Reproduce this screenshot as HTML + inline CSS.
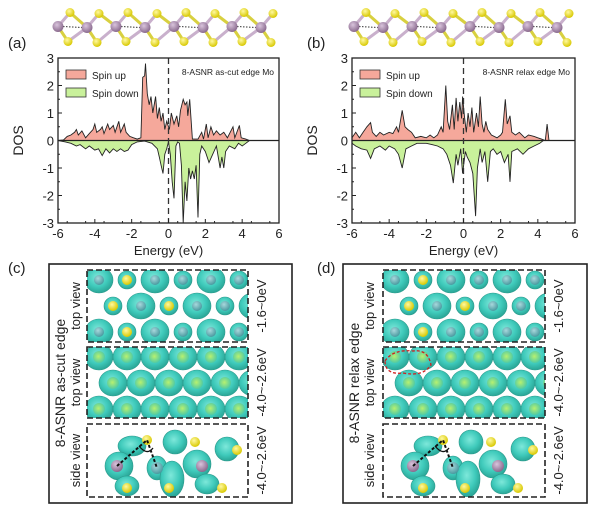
<!DOCTYPE html>
<html><head><meta charset="utf-8"><style>
html,body{margin:0;padding:0;background:#fff}
svg{display:block;font-family:"Liberation Sans",Arial,sans-serif}
</style></head><body>
<svg id="fig" width="600" height="512" viewBox="0 0 600 512" xmlns="http://www.w3.org/2000/svg">
<defs>
<radialGradient id="gTeal" cx="45%" cy="40%" r="60%"><stop offset="0" stop-color="#7ee8da"/><stop offset="0.6" stop-color="#3fcabb"/><stop offset="1" stop-color="#2aa596"/></radialGradient>
<radialGradient id="gMo" cx="40%" cy="35%" r="65%"><stop offset="0" stop-color="#d9c4dc"/><stop offset="1" stop-color="#8a6a8e"/></radialGradient>
<radialGradient id="gS" cx="40%" cy="35%" r="65%"><stop offset="0" stop-color="#fff9a0"/><stop offset="1" stop-color="#d8c800"/></radialGradient>
<radialGradient id="gAt" cx="40%" cy="35%" r="65%"><stop offset="0" stop-color="#a8d8dc"/><stop offset="1" stop-color="#4a9aa0"/></radialGradient>
<radialGradient id="gGr" cx="45%" cy="45%" r="60%"><stop offset="0" stop-color="#b8f070"/><stop offset="1" stop-color="#48c8a8"/></radialGradient>
</defs>
<g id="layer"></g>
</svg>
<script>
// ---- chart data (Energy in eV, DOS) ----
const energyTicks = [-6,-4,-2,0,2,4,6];
const dosTicks = [-3,-2,-1,0,1,2,3];
const aUpE = [-6,-5.7,-5.5,-5.3,-5.1,-5.0,-4.9,-4.7,-4.5,-4.3,-4.1,-4.0,-3.9,-3.7,-3.6,-3.5,-3.3,-3.2,-3.0,-2.9,-2.7,-2.6,-2.4,-2.3,-2.1,-1.9,-1.7,-1.5,-1.4,-1.3,-1.25,-1.15,-1.05,-0.95,-0.85,-0.7,-0.6,-0.5,-0.4,-0.3,-0.2,-0.1,0.05,0.15,0.3,0.45,0.55,0.65,0.8,0.9,1.0,1.05,1.15,1.3,1.6,1.8,1.9,2.05,2.15,2.3,2.45,2.6,2.8,3.0,3.2,3.5,3.6,3.85,3.95,4.2,4.4];
const aUpV = [0,0.02,0.15,0.2,0.3,0.4,0.2,0.35,0.1,0.25,0.4,0.6,0.3,0.4,0.5,0.25,0.6,0.4,0.55,0.3,0.7,0.3,0.6,0.3,0.15,0.1,0.05,0.1,2.3,2.35,2.8,1.7,1.3,1.6,1.0,1.6,0.8,1.2,0.7,1.0,0.4,0.7,0.4,1.0,0.6,0.9,0.5,1.1,1.5,1.3,1.4,0.9,1.5,0.05,0.05,0.3,0.05,0.6,0.1,0.5,0.2,0.35,0.2,0.3,0.1,0.5,0.1,0.55,0.1,0.05,0];
const aDnE = [-6,-5.6,-5.3,-5.0,-4.8,-4.5,-4.3,-4.0,-3.8,-3.6,-3.4,-3.2,-3.0,-2.8,-2.6,-2.4,-2.2,-2.0,-1.7,-1.3,-0.9,-0.6,-0.5,-0.4,-0.3,-0.2,-0.1,0,0.1,0.2,0.3,0.4,0.5,0.6,0.7,0.8,0.9,1.0,1.1,1.2,1.3,1.4,1.5,1.6,1.7,1.8,2.0,2.2,2.4,2.6,2.8,2.9,3.0,3.1,3.3,3.6,3.8,4.0,4.2,4.4];
const aDnV = [0,-0.05,-0.1,-0.2,-0.15,-0.3,-0.2,-0.35,-0.3,-0.55,-0.3,-0.45,-0.3,-0.4,-0.3,-0.4,-0.35,-0.15,-0.05,-0.02,-0.1,-0.3,-0.6,-0.9,-1.2,-0.5,-0.3,-0.05,-0.5,-1.5,-2.1,-0.2,-0.05,-0.1,-0.9,-3.0,-1.5,-2.2,-1.0,-1.4,-1.1,-1.4,-0.9,-2.8,-0.5,-0.2,-0.4,-0.8,-0.5,-0.2,-1.0,-0.6,-1.0,-0.4,-0.2,-0.3,-0.1,-0.2,-0.1,0];
const bUpE = [-6,-5.8,-5.6,-5.4,-5.2,-5.0,-4.9,-4.7,-4.5,-4.3,-4.0,-3.8,-3.6,-3.5,-3.3,-3.15,-3.0,-2.8,-2.6,-2.3,-2.0,-1.8,-1.6,-1.4,-1.2,-1.1,-0.95,-0.85,-0.75,-0.6,-0.5,-0.4,-0.3,-0.2,-0.1,-0.05,0.05,0.15,0.25,0.35,0.45,0.55,0.7,0.8,0.9,1.0,1.1,1.2,1.3,1.5,1.8,2.0,2.1,2.25,2.35,2.5,2.6,2.8,3.0,3.3,3.5,3.8,4.0,4.2,4.4,4.5,4.6];
const bUpV = [0.1,0.3,0.1,0.3,0.5,0.65,0.3,0.15,0.3,0.2,0.3,0.25,0.5,0.3,1.1,0.5,0.4,0.3,0.1,0.15,0.1,0.2,0.1,0.2,0.5,0.3,2.0,0.7,0.4,1.3,0.4,1.55,0.7,1.4,0.8,1.6,0.9,0.3,1.0,0.5,1.2,0.3,1.0,0.5,1.6,0.6,0.3,0.7,0.4,0.2,0.1,0.2,0.3,1.5,0.6,0.9,0.3,0.2,0.3,0.1,0.2,0.15,0.1,0.05,0,0.6,0];
const bDnE = [-6,-5.8,-5.5,-5.2,-5.0,-4.8,-4.5,-4.2,-4.0,-3.7,-3.5,-3.3,-3.1,-2.8,-2.5,-2.0,-1.7,-1.4,-1.1,-0.9,-0.7,-0.55,-0.4,-0.3,-0.15,-0.05,0.1,0.2,0.35,0.5,0.65,0.75,0.9,1.0,1.15,1.3,1.45,1.6,1.8,2.0,2.2,2.4,2.5,2.6,2.9,3.2,3.5,3.8,4.1,4.3];
const bDnV = [-0.1,-0.2,-0.3,-0.35,-0.65,-0.3,-0.2,-0.35,-0.2,-0.3,-0.5,-1.0,-0.3,-0.2,-0.1,-0.1,-0.15,-0.2,-0.3,-0.5,-0.9,-1.55,-0.5,-0.9,-0.3,-1.2,-0.4,-0.6,-0.8,-1.2,-2.75,-1.0,-0.3,-0.8,-0.4,-1.5,-0.4,-0.3,-0.5,-0.4,-0.8,-0.5,-1.5,-0.4,-0.3,-0.5,-0.3,-0.2,-0.1,0];

const NS='http://www.w3.org/2000/svg';
const layer=document.getElementById('layer');
function mk(tag,attrs,parent){const e=document.createElementNS(NS,tag);for(const k in attrs)e.setAttribute(k,attrs[k]);(parent||layer).appendChild(e);return e;}
function txt(s,attrs,parent){const e=mk('text',attrs,parent);e.textContent=s;return e;}

function drawDOS(key,L,R,T,B,upE,upV,dnE,dnV,label){
  const g=mk('g',{});
  
  
  const xs=e=>L+(e+6)/12*(R-L);
  const ys=v=>T+(3-v)/6*(B-T);
  function area(E,V,fill,name){
    let d='M'+xs(E[0])+','+ys(0);
    for(let i=0;i<E.length;i++)d+=' L'+xs(E[i]).toFixed(1)+','+ys(V[i]).toFixed(1);
    d+=' L'+xs(E[E.length-1])+','+ys(0)+' Z';
    const p=mk('path',{d:d,fill:fill,stroke:'none'},g);
    
    
    let d2='';
    for(let i=0;i<E.length;i++)d2+=(i?' L':'M')+xs(E[i]).toFixed(1)+','+ys(V[i]).toFixed(1);
    const l=mk('path',{d:d2,fill:'none',stroke:'#222','stroke-width':0.9},g);
    
    
  }
  area(upE,upV,'#f5a89b','spin-up');
  area(dnE,dnV,'#c9f19b','spin-down');
  const z=mk('line',{x1:L,x2:R,y1:ys(0),y2:ys(0),stroke:'#222','stroke-width':1.2},g);
  
  
  const f=mk('line',{x1:xs(0),x2:xs(0),y1:T,y2:B,stroke:'#333','stroke-width':1.3,'stroke-dasharray':'6,4'},g);
  
  
  const fr=mk('rect',{x:L,y:T,width:R-L,height:B-T,fill:'none',stroke:'#222','stroke-width':1.3},g);
  
  
  energyTicks.forEach(t=>{
    mk('line',{x1:xs(t),x2:xs(t),y1:B,y2:B-4,stroke:'#222'},g);
    const tl=txt(String(t),{x:xs(t),y:B+15,'font-size':13,'text-anchor':'middle',fill:'#222'},g);
    
    
  });
  for(let t=-5.5;t<6;t+=1)mk('line',{x1:xs(t),x2:xs(t),y1:B,y2:B-2,stroke:'#222'},g);
  dosTicks.forEach(t=>{
    mk('line',{x1:L,x2:L+4,y1:ys(t),y2:ys(t),stroke:'#222'},g);
    const tl=txt(String(t),{x:L-4,y:ys(t)+5,'font-size':13,'text-anchor':'end',fill:'#222'},g);
    
    
  });
  for(let t=-2.5;t<3;t+=1)mk('line',{x1:L,x2:L+2,y1:ys(t),y2:ys(t),stroke:'#222'},g);
  const xt=txt('Energy (eV)',{x:(L+R)/2,y:B+32,'font-size':13,'text-anchor':'middle',fill:'#222'},g);
  
  
  const yt=txt('DOS',{x:0,y:0,'font-size':14,'text-anchor':'middle',fill:'#222',transform:'translate('+(L-35)+','+((T+B)/2)+') rotate(-90)'},g);
  
  
  const lg=mk('g',{},g);
  
  
  mk('rect',{x:L+8,y:T+12,width:20,height:9,fill:'#f5a89b',stroke:'#333','stroke-width':0.8},lg);
  txt('Spin up',{x:L+34,y:T+21,'font-size':10,fill:'#222'},lg);
  mk('rect',{x:L+8,y:T+30,width:20,height:9,fill:'#c9f19b',stroke:'#333','stroke-width':0.8},lg);
  txt('Spin down',{x:L+34,y:T+39,'font-size':10,fill:'#222'},lg);
  const an=txt(label,{x:R-5,y:T+17,'font-size':8.5,'text-anchor':'end',fill:'#222'},g);
  
  
}
drawDOS('a',58,279,58,223,aUpE,aUpV,aDnE,aDnV,'8-ASNR as-cut edge Mo');
drawDOS('b',352,575,58,223,bUpE,bUpV,bDnE,bDnV,'8-ASNR relax edge Mo');

// panel letters
[['(a)',8,48],['(b)',307,48],['(c)',8,273],['(d)',317,273]].forEach(p=>{
  const t=txt(p[0],{x:p[1],y:p[2],'font-size':15,fill:'#222'});
  
  
});

// molecule strips
function strip(x0,step,n,dy){
  const g=mk('g',{});
  
  
  const mo=[];
  for(let i=0;i<n;i++){mo.push([x0+i*step,27+(i%2?dy:-dy)]);}
  for(let i=0;i<n;i++){
    const [x,y]=mo[i];
    const sU=[x+12,y-14], sD=[x+10,y+15];
    mk('line',{x1:x,y1:y,x2:sU[0],y2:sU[1],stroke:'#c9b0cc','stroke-width':3},g);
    mk('line',{x1:x,y1:y,x2:sD[0],y2:sD[1],stroke:'#d8d040','stroke-width':3},g);
    if(i<n-1){mk('line',{x1:sU[0],y1:sU[1],x2:mo[i+1][0],y2:mo[i+1][1],stroke:'#d8d040','stroke-width':3},g);
      mk('line',{x1:sD[0],y1:sD[1],x2:mo[i+1][0],y2:mo[i+1][1],stroke:'#c9b0cc','stroke-width':3},g);
      if(i%2==0)mk('line',{x1:x+5,y1:y,x2:mo[i+1][0]-5,y2:mo[i+1][1],stroke:'#333','stroke-width':1,'stroke-dasharray':'1.5,1.5'},g);}
    mk('circle',{cx:sU[0],cy:sU[1],r:4.5,fill:'url(#gS)'},g);
    mk('circle',{cx:sD[0],cy:sD[1],r:4.5,fill:'url(#gS)'},g);
    mk('circle',{cx:x,cy:y,r:5.5,fill:'url(#gMo)'},g);
  }
}
strip(58,29,8,0.5);
strip(354,29,8,0.5);

// bottom panels
function panel(key,bx,bw,ix,iw,title,red){
  const g=mk('g',{});
  
  
  mk('rect',{x:bx,y:264,width:bw,height:239,fill:'#fff',stroke:'#222','stroke-width':1.6},g);
  const rows=[[270,342],[347,418],[424,497]];
  const t1=txt(title,{x:0,y:0,'font-size':14,'text-anchor':'middle',fill:'#222',transform:'translate('+(bx+16)+',383) rotate(-90)'},g);
  
  
  const views=['top view','top view','side view'];
  const en=['-1.6~0eV','-4.0~-2.6eV','-4.0~-2.6eV'];
  rows.forEach((r,k)=>{
    const [y0,y1]=r, ym=(y0+y1)/2;
    const cg=mk('g',{},g);
    
    
    const clip=mk('clipPath',{id:'c'+key+k},cg);
    mk('rect',{x:ix,y:y0,width:iw,height:y1-y0},clip);
    const cc=mk('g',{'clip-path':'url(#c'+key+k+')'},cg);
    if(k<2){
      for(let c=0;c<6;c++){
        const x=ix+12+c*28;
        for(let j=0;j<3;j++){
          const y=y0+10+j*26;
          const big=(k==1)||((c+j)%2==0);
          mk('ellipse',{cx:x+(j%2?14:0),cy:y,rx:big?14:9,ry:big?13:9,fill:'url(#gTeal)',stroke:'#2a9a8c','stroke-width':0.6},cc);
          if(k==0&&c<3&&(c+j)%2==1)mk('circle',{cx:x+(j%2?14:0),cy:y,r:5,fill:'url(#gS)'},cc);
          else mk('circle',{cx:x+(j%2?14:0),cy:y,r:k==1?6:5,fill:k==1?'url(#gGr)':'url(#gAt)'},cc);
        }
      }
    } else {
      const blobs=[[ix+45,y0+22,14,10],[ix+32,y0+42,14,14],[ix+40,y0+62,12,10],[ix+70,y0+44,10,12],[ix+85,y0+55,12,18],[ix+88,y0+18,12,12],[ix+110,y0+40,14,14],[ix+120,y0+60,12,10],[ix+140,y0+25,12,12]];
      blobs.forEach(b=>mk('ellipse',{cx:b[0],cy:b[1],rx:b[2],ry:b[3],fill:'url(#gTeal)',stroke:'#2a9a8c','stroke-width':0.6},cc));
      [[ix+30,y0+42,'M'],[ix+70,y0+44,'A'],[ix+115,y0+42,'M'],[ix+60,y0+16,'S'],[ix+40,y0+64,'S'],[ix+82,y0+64,'S'],[ix+108,y0+18,'S'],[ix+135,y0+64,'S'],[ix+150,y0+26,'S']].forEach(a=>{
        mk('circle',{cx:a[0],cy:a[1],r:a[2]=='S'?5:6,fill:a[2]=='S'?'url(#gS)':(a[2]=='M'?'url(#gMo)':'url(#gAt)')},cc);
      });
      mk('polyline',{points:(ix+30)+','+(y0+42)+' '+(ix+60)+','+(y0+16)+' '+(ix+70)+','+(y0+44),fill:'none',stroke:'#111','stroke-width':2,'stroke-dasharray':'3,2'},cc);
      mk('path',{d:'M'+(ix+52)+','+(y0+22)+' Q'+(ix+60)+','+(y0+32)+' '+(ix+66)+','+(y0+24),fill:'none',stroke:'#111','stroke-width':1.3},cc);
    }
    if(red&&k==1)mk('path',{d:'M'+(ix+2)+','+(y0+14)+' Q'+(ix+10)+','+(y0+2)+' '+(ix+30)+','+(y0+4)+' Q'+(ix+45)+','+(y0+2)+' '+(ix+48)+','+(y0+18)+' Q'+(ix+40)+','+(y0+30)+' '+(ix+20)+','+(y0+26)+' Q'+(ix+2)+','+(y0+28)+' '+(ix+2)+','+(y0+14),fill:'none',stroke:'#d02020','stroke-width':1.3,'stroke-dasharray':'3,2'},cc);
    mk('rect',{x:ix,y:y0,width:iw,height:y1-y0,fill:'none',stroke:'#222','stroke-width':1.6,'stroke-dasharray':'6,3'},cg);
    const vl=txt(views[k],{x:0,y:0,'font-size':13,'text-anchor':'middle',fill:'#222',transform:'translate('+(bx+31)+','+ym+') rotate(-90)'},g);
    
    
    const el=txt(en[k],{x:0,y:0,'font-size':13,'text-anchor':'middle',fill:'#222',transform:'translate('+(ix+iw+18)+','+ym+') rotate(-90)'},g);
    
    
  });
}
panel('c',49,243,87,161,'8-ASNR as-cut edge',false);
panel('d',343,244,383,162,'8-ASNR relax edge',true);
</script>
</body></html>
